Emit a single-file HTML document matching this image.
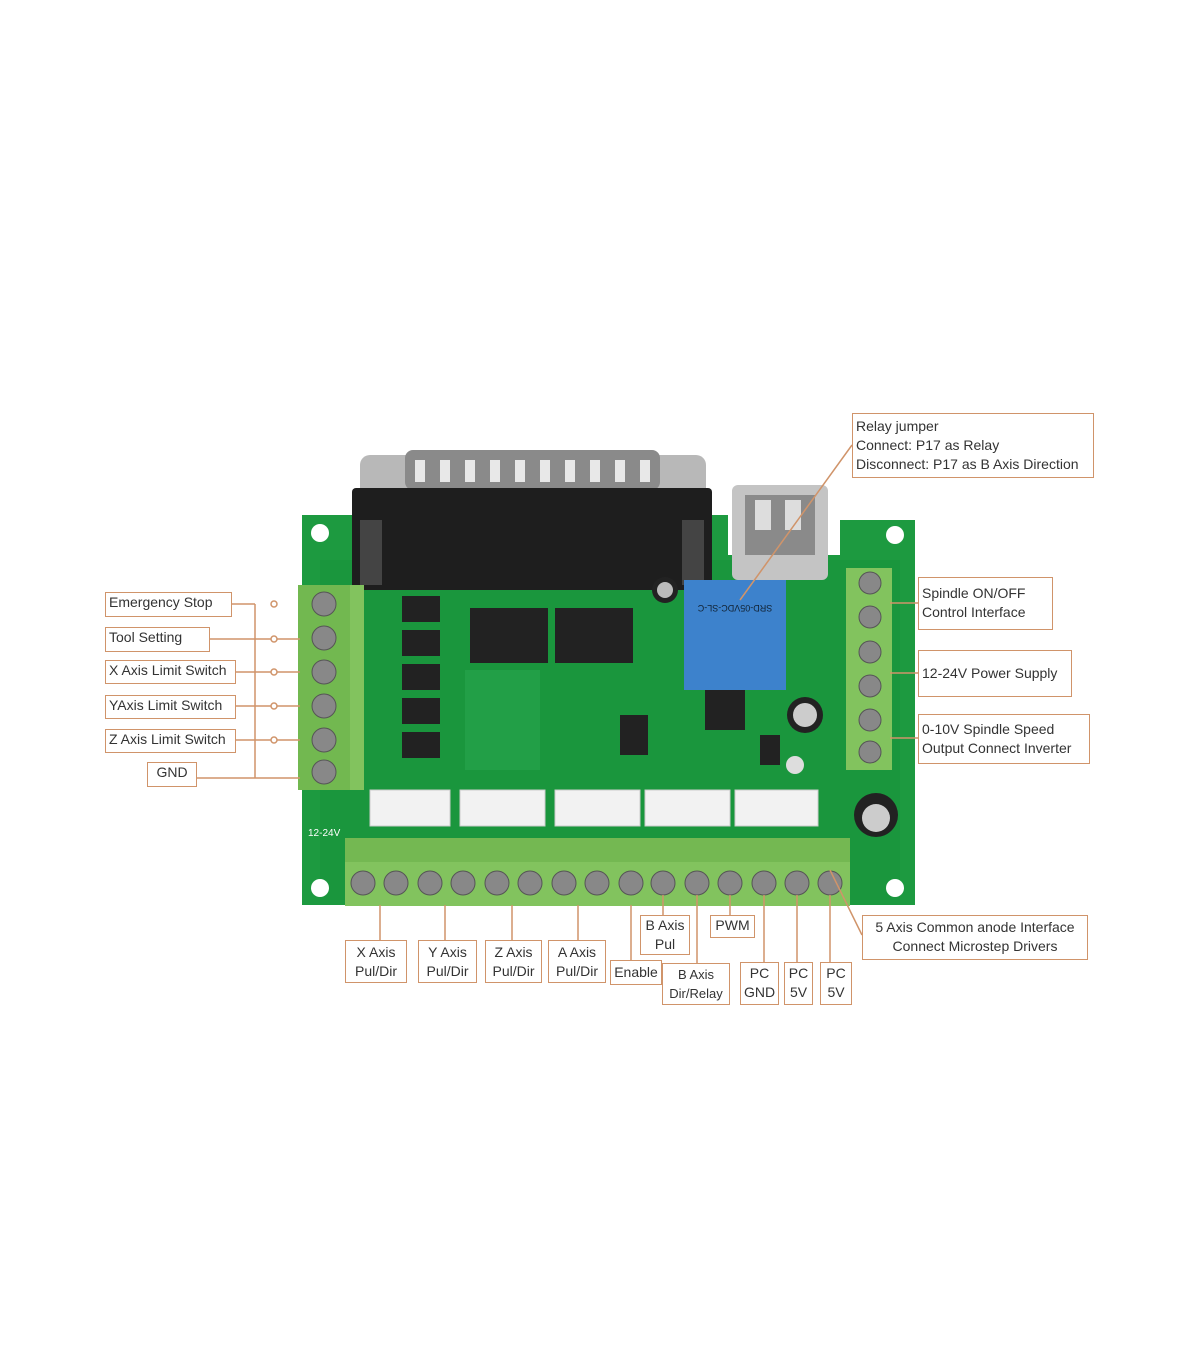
<!DOCTYPE html>
<html><head><meta charset="utf-8"><style>
body{margin:0;background:#fff;}
.w{position:relative;width:1200px;height:1372px;overflow:hidden;background:#fff;font-family:"Liberation Sans",sans-serif;}
.a{position:absolute;}
.lb{position:absolute;border:1.5px solid #d0946a;background:#fff;color:#333;font-size:14px;line-height:19px;padding:0 3px;box-sizing:border-box;white-space:nowrap;}
.c{text-align:center;}
</style></head><body><div class="w">
<svg class="a" style="left:0;top:0" width="1200" height="1372">
<path d="M302 515 H728 V555 H840 V520 H915 V905 H302 Z" fill="#1d9a40"/>
<rect x="320" y="560" width="580" height="340" fill="#17913a" opacity=".5"/>
<circle cx="320" cy="533" r="9" fill="#fff"/><circle cx="895" cy="535" r="9" fill="#fff"/>
<circle cx="320" cy="888" r="9" fill="#fff"/><circle cx="895" cy="888" r="9" fill="#fff"/>
<rect x="360" y="455" width="346" height="50" rx="10" fill="#b8b8b8"/>
<rect x="405" y="450" width="255" height="40" rx="8" fill="#8a8a8a"/>
<g fill="#e8e8e8"><rect x="415" y="460" width="10" height="22"/><rect x="440" y="460" width="10" height="22"/><rect x="465" y="460" width="10" height="22"/><rect x="490" y="460" width="10" height="22"/><rect x="515" y="460" width="10" height="22"/><rect x="540" y="460" width="10" height="22"/><rect x="565" y="460" width="10" height="22"/><rect x="590" y="460" width="10" height="22"/><rect x="615" y="460" width="10" height="22"/><rect x="640" y="460" width="10" height="22"/></g>
<rect x="352" y="488" width="360" height="102" rx="4" fill="#1e1e1e"/>
<rect x="360" y="520" width="22" height="65" fill="#444"/><rect x="682" y="520" width="22" height="65" fill="#444"/>
<rect x="732" y="485" width="96" height="95" rx="6" fill="#c4c4c4"/>
<rect x="745" y="495" width="70" height="60" fill="#8a8a8a"/>
<rect x="755" y="500" width="16" height="30" fill="#ddd"/><rect x="785" y="500" width="16" height="30" fill="#ddd"/>
<rect x="298" y="585" width="66" height="205" fill="#82c35e"/>
<rect x="298" y="585" width="52" height="205" fill="#72b850"/>
<g fill="#888" stroke="#555"><circle cx="324" cy="604" r="12"/><circle cx="324" cy="638" r="12"/><circle cx="324" cy="672" r="12"/><circle cx="324" cy="706" r="12"/><circle cx="324" cy="740" r="12"/><circle cx="324" cy="772" r="12"/></g>
<rect x="846" y="568" width="46" height="202" fill="#82c35e"/>
<g fill="#888" stroke="#555"><circle cx="870" cy="583" r="11"/><circle cx="870" cy="617" r="11"/><circle cx="870" cy="652" r="11"/><circle cx="870" cy="686" r="11"/><circle cx="870" cy="720" r="11"/><circle cx="870" cy="752" r="11"/></g>
<g fill="#222"><rect x="402" y="596" width="38" height="26"/><rect x="402" y="630" width="38" height="26"/><rect x="402" y="664" width="38" height="26"/><rect x="402" y="698" width="38" height="26"/><rect x="402" y="732" width="38" height="26"/>
<rect x="470" y="608" width="78" height="55"/><rect x="555" y="608" width="78" height="55"/>
<rect x="620" y="715" width="28" height="40"/><rect x="705" y="690" width="40" height="40"/><rect x="760" y="735" width="20" height="30"/></g>
<rect x="465" y="670" width="75" height="100" fill="#2aa852" opacity=".5"/>
<rect x="684" y="580" width="102" height="110" fill="#3d82cc"/>
<text x="735" y="605" font-size="9" fill="#123" text-anchor="middle" transform="rotate(180 735 605)">SRD-05VDC-SL-C</text>
<circle cx="665" cy="590" r="13" fill="#222"/><circle cx="665" cy="590" r="8" fill="#bbb"/>
<circle cx="805" cy="715" r="18" fill="#222"/><circle cx="805" cy="715" r="12" fill="#ccc"/>
<circle cx="876" cy="815" r="22" fill="#222"/><circle cx="876" cy="818" r="14" fill="#ccc"/>
<circle cx="795" cy="765" r="9" fill="#ddd"/>
<g fill="#f2f2f2" stroke="#ccc"><rect x="370" y="790" width="80" height="36"/><rect x="460" y="790" width="85" height="36"/><rect x="555" y="790" width="85" height="36"/><rect x="645" y="790" width="85" height="36"/><rect x="735" y="790" width="83" height="36"/></g>
<text x="308" y="836" font-size="10" fill="#fff">12-24V</text>
<rect x="345" y="838" width="505" height="68" fill="#82c35e"/>
<rect x="345" y="838" width="505" height="24" fill="#74b852"/>
<g fill="#888" stroke="#555"><circle cx="363" cy="883" r="12"/><circle cx="396" cy="883" r="12"/><circle cx="430" cy="883" r="12"/><circle cx="463" cy="883" r="12"/><circle cx="497" cy="883" r="12"/><circle cx="530" cy="883" r="12"/><circle cx="564" cy="883" r="12"/><circle cx="597" cy="883" r="12"/><circle cx="631" cy="883" r="12"/><circle cx="663" cy="883" r="12"/><circle cx="697" cy="883" r="12"/><circle cx="730" cy="883" r="12"/><circle cx="764" cy="883" r="12"/><circle cx="797" cy="883" r="12"/><circle cx="830" cy="883" r="12"/></g>
<g stroke="#d0946a" stroke-width="1.5" fill="none">
<path d="M255 604 V778 M232 604 H255 M210 639 H300 M235 672 H300 M235 706 H300 M235 740 H300 M197 778 H300"/>
<circle cx="274" cy="604" r="3" fill="#fff"/><circle cx="274" cy="639" r="3" fill="#fff"/><circle cx="274" cy="672" r="3" fill="#fff"/><circle cx="274" cy="706" r="3" fill="#fff"/><circle cx="274" cy="740" r="3" fill="#fff"/>
<path d="M852 445 L740 600 M890 603 H918 M890 673 H918 M890 738 H918 M862 935 L830 870"/>
<path d="M380 905 V940 M445 905 V940 M512 905 V940 M578 905 V940 M631 905 V960 M663 895 V915 M697 895 V963 M730 895 V915 M764 895 V962 M797 895 V962 M830 895 V962"/>
</g>
</svg>
<div class="lb" style="left:105px;top:592px;width:127px;height:25px">Emergency Stop</div>
<div class="lb" style="left:105px;top:627px;width:105px;height:25px">Tool Setting</div>
<div class="lb" style="left:105px;top:660px;width:131px;height:24px">X Axis Limit Switch</div>
<div class="lb" style="left:105px;top:695px;width:131px;height:24px">YAxis Limit Switch</div>
<div class="lb" style="left:105px;top:729px;width:131px;height:24px">Z Axis Limit Switch</div>
<div class="lb c" style="left:147px;top:762px;width:50px;height:25px">GND</div>
<div class="lb" style="left:852px;top:413px;width:242px;height:65px;padding-top:3px">Relay jumper<br>Connect: P17 as Relay<br>Disconnect: P17 as B Axis Direction</div>
<div class="lb" style="left:918px;top:577px;width:135px;height:53px;padding-top:6px">Spindle ON/OFF<br>Control Interface</div>
<div class="lb" style="left:918px;top:650px;width:154px;height:47px;padding-top:13px">12-24V Power Supply</div>
<div class="lb" style="left:918px;top:714px;width:172px;height:50px;padding-top:5px">0-10V Spindle Speed<br>Output Connect Inverter</div>
<div class="lb c" style="left:862px;top:915px;width:226px;height:45px;padding-top:2px">5 Axis Common anode Interface<br>Connect Microstep Drivers</div>
<div class="lb c" style="left:345px;top:940px;width:62px;height:43px;padding-top:2px">X Axis<br>Pul/Dir</div>
<div class="lb c" style="left:418px;top:940px;width:59px;height:43px;padding-top:2px">Y Axis<br>Pul/Dir</div>
<div class="lb c" style="left:485px;top:940px;width:57px;height:43px;padding-top:2px">Z Axis<br>Pul/Dir</div>
<div class="lb c" style="left:548px;top:940px;width:58px;height:43px;padding-top:2px">A Axis<br>Pul/Dir</div>
<div class="lb c" style="left:610px;top:960px;width:52px;height:25px;padding:2px 0">Enable</div>
<div class="lb c" style="left:640px;top:915px;width:50px;height:40px;padding-top:0">B Axis<br>Pul</div>
<div class="lb c" style="left:662px;top:963px;width:68px;height:42px;font-size:13px;padding-top:1px">B Axis<br>Dir/Relay</div>
<div class="lb c" style="left:710px;top:915px;width:45px;height:23px">PWM</div>
<div class="lb c" style="left:740px;top:962px;width:39px;height:43px;padding-top:1px">PC<br>GND</div>
<div class="lb c" style="left:784px;top:962px;width:29px;height:43px;padding:1px 0 0">PC<br>5V</div>
<div class="lb c" style="left:820px;top:962px;width:32px;height:43px;padding:1px 0 0">PC<br>5V</div>
</div></body></html>
